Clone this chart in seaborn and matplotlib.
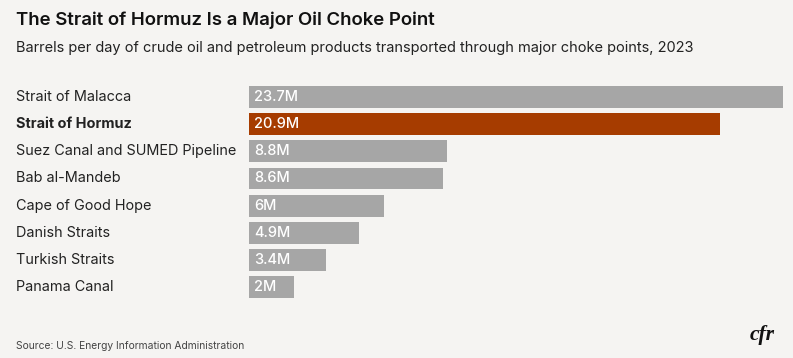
import matplotlib
matplotlib.use("Agg")
import matplotlib.pyplot as plt
import matplotlib.transforms as mtransforms
import pandas as pd
import seaborn as sns

# data
routes = ["Strait of Malacca", "Strait of Hormuz", "Suez Canal and SUMED Pipeline",
          "Bab al-Mandeb", "Cape of Good Hope", "Danish Straits",
          "Turkish Straits", "Panama Canal"]
barrels = [23.7, 20.9, 8.8, 8.6, 6.0, 4.9, 3.4, 2.0]
value_labels = ["23.7M", "20.9M", "8.8M", "8.6M", "6M", "4.9M", "3.4M", "2M"]
highlight = "Strait of Hormuz"

bg = "#f5f4f2"
grey = "#a6a6a6"
orange = "#a63c00"

sns.set_theme(style="white")
plt.rcParams["font.family"] = ["Inter", "DejaVu Sans"]

df = pd.DataFrame({"route": routes, "barrels": barrels})
colors = [orange if r == highlight else grey for r in routes]

fig = plt.figure(figsize=(7.93, 3.58), dpi=100, facecolor=bg)
ax = fig.add_axes([0.314, 0.160, 0.673, 0.607], facecolor=bg)

sns.barplot(data=df, x="barrels", y="route", hue="route", palette=colors,
            legend=False, width=0.8, saturation=1, linewidth=0, ax=ax)

ax.set_xlim(0, 23.7)
ax.set_xlabel("")
ax.set_ylabel("")
ax.set_xticks([])
ax.set_yticks([])
sns.despine(ax=ax, left=True, bottom=True)

# value labels inside bars
for i, lab in enumerate(value_labels):
    ax.annotate(lab, xy=(0, i), xytext=(3.5, 0), textcoords="offset points",
                ha="left", va="center", color="white", fontsize=10.5,
                fontweight="medium")

# category labels at the left edge of the figure
trans = mtransforms.blended_transform_factory(fig.transFigure, ax.transData)
for i, r in enumerate(routes):
    ax.text(16 / 793, i, r, transform=trans, ha="left", va="center",
            fontsize=10.4, color="#222222",
            fontweight="bold" if r == highlight else "normal")

fig.text(16 / 793, 1 - 20 / 358, "The Strait of Hormuz Is a Major Oil Choke Point",
         ha="left", va="center", fontsize=13.4, fontweight="semibold", color="#111111")
fig.text(16 / 793, 1 - 48 / 358,
         "Barrels per day of crude oil and petroleum products transported through major choke points, 2023",
         ha="left", va="center", fontsize=10.5, color="#222222")
fig.text(16 / 793, 1 - 346 / 358, "Source: U.S. Energy Information Administration",
         ha="left", va="center", fontsize=7.4, color="#444444")
fig.text(775 / 793, 1 - 335 / 358, "cfr", ha="right", va="center", fontsize=15.5,
         fontstyle="italic", fontweight="bold", family="Liberation Serif", color="#111111")

fig.savefig("out.png", dpi=100, facecolor=bg)
